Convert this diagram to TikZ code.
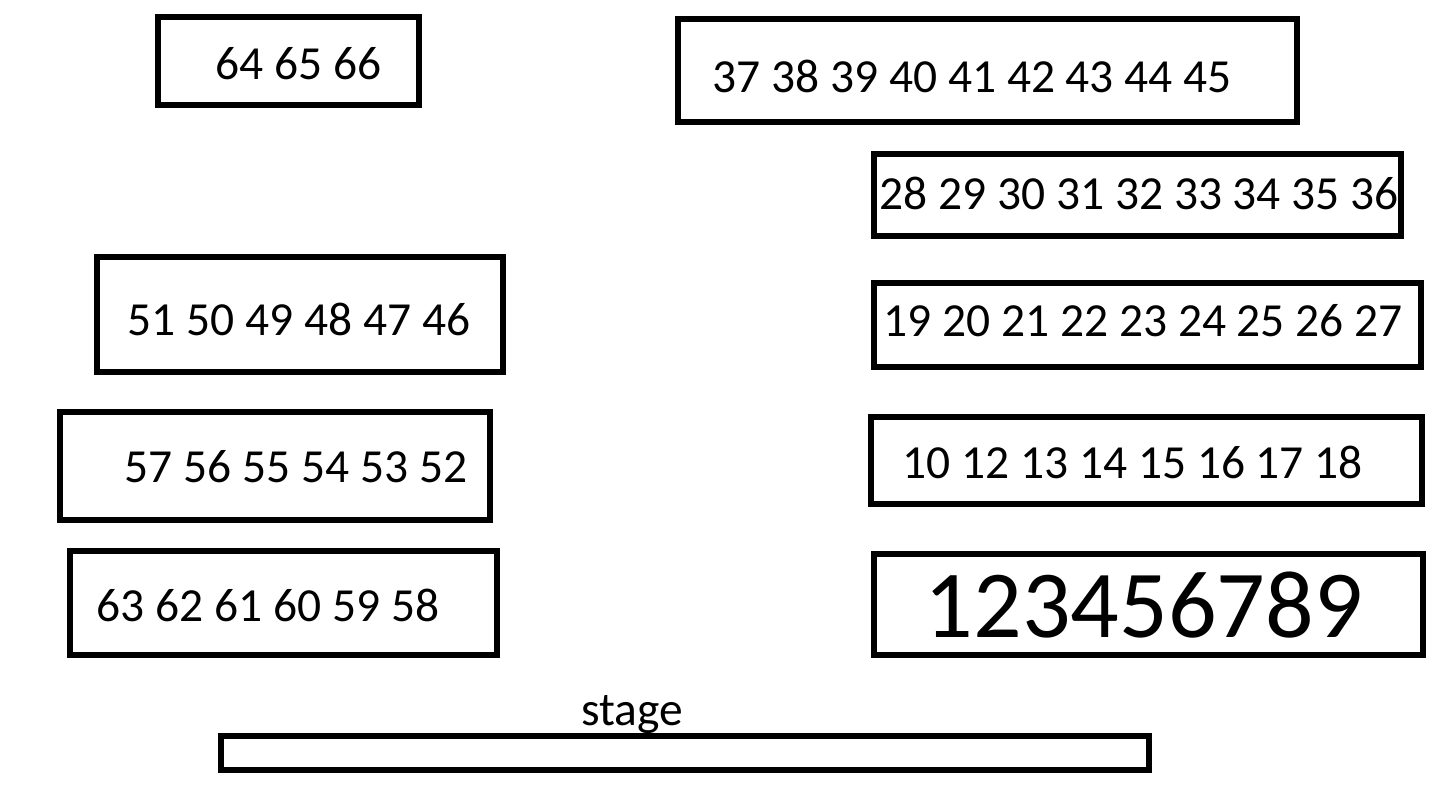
\documentclass[tikz,border=0pt]{standalone}
\usepackage{fontspec}
\setmainfont{Carlito}
\usetikzlibrary{positioning}

\tikzset{
  seatbox/.style={draw, line width=1.8pt, inner sep=0pt},
  seats/.style={inner sep=0pt, anchor=west, font=\fontsize{13.5}{16}\selectfont},
}

\begin{document}
\begin{tikzpicture}[x=0.01cm, y=-0.01cm]
\useasboundingbox (0,0) rectangle (1445,793);
% left block
\node[seatbox, minimum width=2.61cm, minimum height=0.88cm] (r8) at (288.5,61) {};
\node[seats] (t8) at (215,64) {64 65 66};
\node[seatbox, minimum width=4.06cm, minimum height=1.15cm] (r6) at (300,314.5) {};
\node[seats] (t6) at (127,319) {51 50 49 48 47 46};
\node[seatbox, minimum width=4.30cm, minimum height=1.08cm] (r7) at (275,466) {};
\node[seats] (t7) at (124,467) {57 56 55 54 53 52};
\node[seatbox, minimum width=4.27cm, minimum height=1.04cm] (r9) at (283.5,603) {};
\node[seats] (t9) at (96,605) {63 62 61 60 59 58};
% right block
\node[seatbox, minimum width=6.19cm, minimum height=1.03cm] (r5) at (987.5,70.5) {};
\node[seats] (t5) at (712,76) {37 38 39 40 41 42 43 44 45};
\node[seatbox, minimum width=5.27cm, minimum height=0.82cm] (r4) at (1137.5,195) {};
\node[seats] (t4) at (879,193) {28 29 30 31 32 33 34 35 36};
\node[seatbox, minimum width=5.47cm, minimum height=0.84cm] (r3) at (1147.5,325) {};
\node[seats] (t3) at (883,321) {19 20 21 22 23 24 25 26 27};
\node[seatbox, minimum width=5.51cm, minimum height=0.87cm] (r2) at (1146.5,460.5) {};
\node[seats] (t2) at (902,462) {10 12 13 14 15 16 17 18};
\node[seatbox, minimum width=5.49cm, minimum height=1.01cm] (r1) at (1148.5,604.5) {};
\node[seats, font=\fontsize{27.3}{32}\selectfont] (t1) at (924,605) {123456789};
% stage
\node[seatbox, minimum width=9.28cm, minimum height=0.34cm] (stage) at (685,753) {};
\node[inner sep=0pt, font=\fontsize{13.5}{16}\selectfont] (stagelbl) at (632,715) {stage};
\end{tikzpicture}
\end{document}
